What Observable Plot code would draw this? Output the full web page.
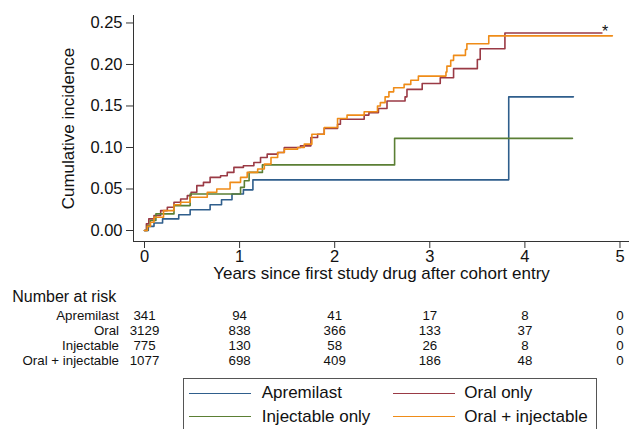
<!DOCTYPE html>
<html><head><meta charset="utf-8">
<script src="https://cdn.jsdelivr.net/npm/d3@7"></script>
<script src="https://cdn.jsdelivr.net/npm/@observablehq/plot@0.6"></script>
<style>
body{margin:0;background:#fff;font-family:"Liberation Sans",Arial,sans-serif;}
#wrap{position:relative;width:629px;height:429px;overflow:hidden;background:#fff;}
#main{position:absolute;left:0;top:0;}
#risk{position:absolute;left:0;top:284px;}
#legend{position:absolute;left:183px;top:378px;width:414px;height:80px;border:1px solid #555;box-sizing:border-box;}
.sw{position:absolute;height:1.6px;width:62px;}
.lt{position:absolute;font-size:17px;line-height:20px;color:#111;white-space:nowrap;}
svg{overflow:visible;}
</style></head><body>
<div id="wrap"><div id="main"></div><div id="risk"></div><div id="legend"></div></div>
<script>
// ---- data ----
const seriesNames = ["Apremilast", "Oral only", "Injectable only", "Oral + injectable"];
const seriesColors = ["#2f5e8c", "#9a3a45", "#5b7f34", "#ef8c18"];

const apremilastT = [0, 0.04, 0.10, 0.19, 0.36, 0.48, 0.69, 0.81, 0.92, 1.04, 1.14, 3.83, 4.51];
const apremilastV = [0, 0.005, 0.009, 0.014, 0.019, 0.025, 0.031, 0.037, 0.044, 0.049, 0.061, 0.161, 0.161];

const injectableT = [0, 0.03, 0.06, 0.12, 0.31, 0.48, 1.01, 1.05, 1.10, 1.24, 2.63, 4.50];
const injectableV = [0, 0.006, 0.012, 0.020, 0.030, 0.044, 0.052, 0.060, 0.070, 0.079, 0.111, 0.111];

const oralT = [0, 0.02, 0.045, 0.10, 0.17, 0.24, 0.31, 0.38, 0.45, 0.49, 0.55, 0.62, 0.69, 0.80, 0.87, 0.94, 1.04, 1.15, 1.22, 1.29, 1.40, 1.47, 1.64, 1.75, 1.82, 1.89, 2.03, 2.06, 2.31, 2.36, 2.46, 2.55, 2.74, 2.76, 2.92, 3.11, 3.25, 3.50, 3.53, 3.79, 4.81];
const oralV = [0, 0.008, 0.014, 0.018, 0.024, 0.028, 0.034, 0.038, 0.042, 0.046, 0.054, 0.058, 0.064, 0.066, 0.070, 0.076, 0.078, 0.082, 0.088, 0.092, 0.094, 0.100, 0.102, 0.112, 0.116, 0.123, 0.128, 0.134, 0.139, 0.142, 0.147, 0.156, 0.161, 0.170, 0.177, 0.184, 0.195, 0.206, 0.219, 0.238, 0.238];

const oralInjT = [0, 0.03, 0.063, 0.10, 0.20, 0.31, 0.38, 0.48, 0.66, 0.76, 0.90, 1.01, 1.08, 1.19, 1.26, 1.33, 1.40, 1.47, 1.61, 1.68, 1.76, 1.89, 2.03, 2.13, 2.31, 2.45, 2.48, 2.53, 2.57, 2.62, 2.73, 2.80, 2.88, 3.17, 3.18, 3.22, 3.25, 3.375, 3.39, 3.62, 4.92];
const oralInjV = [0, 0.005, 0.010, 0.016, 0.024, 0.031, 0.034, 0.040, 0.046, 0.050, 0.058, 0.064, 0.070, 0.074, 0.080, 0.088, 0.094, 0.098, 0.100, 0.104, 0.116, 0.124, 0.135, 0.139, 0.143, 0.150, 0.154, 0.161, 0.167, 0.172, 0.176, 0.181, 0.186, 0.191, 0.198, 0.205, 0.211, 0.218, 0.225, 0.2345, 0.2345];

const xTicks = [0, 1, 2, 3, 4, 5];
const yTicks = [0, 0.05, 0.10, 0.15, 0.20, 0.25];

const riskGroups = ["Apremilast", "Oral", "Injectable", "Oral + injectable"];
const riskTimes = [0, 1, 2, 3, 4, 5];
const riskApremilast = [341, 94, 41, 17, 8, 0];
const riskOral = [3129, 838, 366, 133, 37, 0];
const riskInjectable = [775, 130, 58, 26, 8, 0];
const riskOralInj = [1077, 698, 409, 186, 48, 0];

const xTitle = "Years since first study drug after cohort entry";
const yTitle = "Cumulative incidence";
const riskTitle = "Number at risk";
const flagText = "*";

// ---- build tables ----
function toRows(name, T, V) { return T.map((t, i) => ({series: name, t, v: V[i]})); }
const curves = [
  ...toRows("Apremilast", apremilastT, apremilastV),
  ...toRows("Oral only", oralT, oralV),
  ...toRows("Injectable only", injectableT, injectableV),
  ...toRows("Oral + injectable", oralInjT, oralInjV)
];
const riskRows = [];
[riskApremilast, riskOral, riskInjectable, riskOralInj].forEach((arr, gi) =>
  arr.forEach((n, i) => riskRows.push({group: riskGroups[gi], t: riskTimes[i], n})));

const xDomain = [-0.1157, 5.1];
const yDomain = [-0.01325, 0.259];
const font = '"Liberation Sans", Arial, sans-serif';

const main = Plot.plot({
  width: 629, height: 290,
  marginLeft: 133, marginRight: 0, marginTop: 15, marginBottom: 49,
  style: {fontFamily: font, fontSize: "16.5px", color: "#111", background: "transparent"},
  x: {domain: xDomain, axis: null},
  y: {domain: yDomain, axis: null},
  color: {domain: seriesNames, range: seriesColors},
  marks: [
    Plot.line(curves, {x: "t", y: "v", z: "series", stroke: "series", curve: "step-after", strokeWidth: 1.6}),
    Plot.text([{t: oralT[oralT.length - 1], v: oralV[oralV.length - 1]}], {x: "t", y: "v", text: () => flagText, textAnchor: "start", lineAnchor: "middle", dx: 0, dy: -1, fontSize: 16, fill: "#111"}),
    Plot.ruleX([xDomain[0]], {stroke: "#333", strokeWidth: 1}),
    Plot.ruleY([yDomain[0]], {stroke: "#333", strokeWidth: 1}),
    Plot.axisX({ticks: xTicks, tickFormat: d3.format("d"), tickSize: 7, tickPadding: 1.5, fontSize: 16.5, label: null, stroke: "#333"}),
    Plot.axisY({ticks: yTicks, tickFormat: d3.format(".2f"), tickSize: 7, tickPadding: 4, fontSize: 16.5, label: null, stroke: "#333"}),
    Plot.text([xTitle], {frameAnchor: "bottom", textAnchor: "middle", lineAnchor: "middle", dy: 32.5, fontSize: 17, fill: "#111"}),
    Plot.text([yTitle], {frameAnchor: "left", textAnchor: "middle", lineAnchor: "middle", dx: -65, rotate: -90, fontSize: 17, fill: "#111"})
  ]
});
document.getElementById("main").appendChild(main);

const risk = Plot.plot({
  width: 629, height: 86,
  marginLeft: 133, marginRight: 0, marginTop: 30.7, marginBottom: 8.7,
  style: {fontFamily: font, fontSize: "13.3px", color: "#111", background: "transparent"},
  x: {domain: xDomain, axis: null},
  y: {type: "point", domain: riskGroups, padding: 0, axis: null},
  marks: [
    Plot.axisY({tickSize: 0, tickPadding: 14.5, fontSize: 13.3, label: null}),
    Plot.text(riskRows, {x: "t", y: "group", text: d => String(d.n), fontSize: 13.3, fill: "#111"}),
    Plot.text([riskTitle], {frameAnchor: "top-left", textAnchor: "start", lineAnchor: "middle", dx: -121.3, dy: -18, fontSize: 16, fill: "#111"})
  ]
});
document.getElementById("risk").appendChild(risk);

// ---- legend (line keys) ----
const legend = document.getElementById("legend");
const legendPos = [
  {line: [5.3, 13.5], text: [77.7, 4]},
  {line: [209.3, 13.5], text: [280.3, 4]},
  {line: [5.3, 36.9], text: [77.7, 27.7]},
  {line: [209.3, 36.9], text: [280.3, 27.7]}
];
seriesNames.forEach((name, i) => {
  const p = legendPos[i];
  const s = document.createElement("div");
  s.className = "sw";
  s.style.left = p.line[0] + "px"; s.style.top = p.line[1] + "px";
  s.style.background = seriesColors[i];
  legend.appendChild(s);
  const t = document.createElement("div");
  t.className = "lt";
  t.style.left = p.text[0] + "px"; t.style.top = p.text[1] + "px";
  t.textContent = name;
  legend.appendChild(t);
});
</script>
</body></html>
